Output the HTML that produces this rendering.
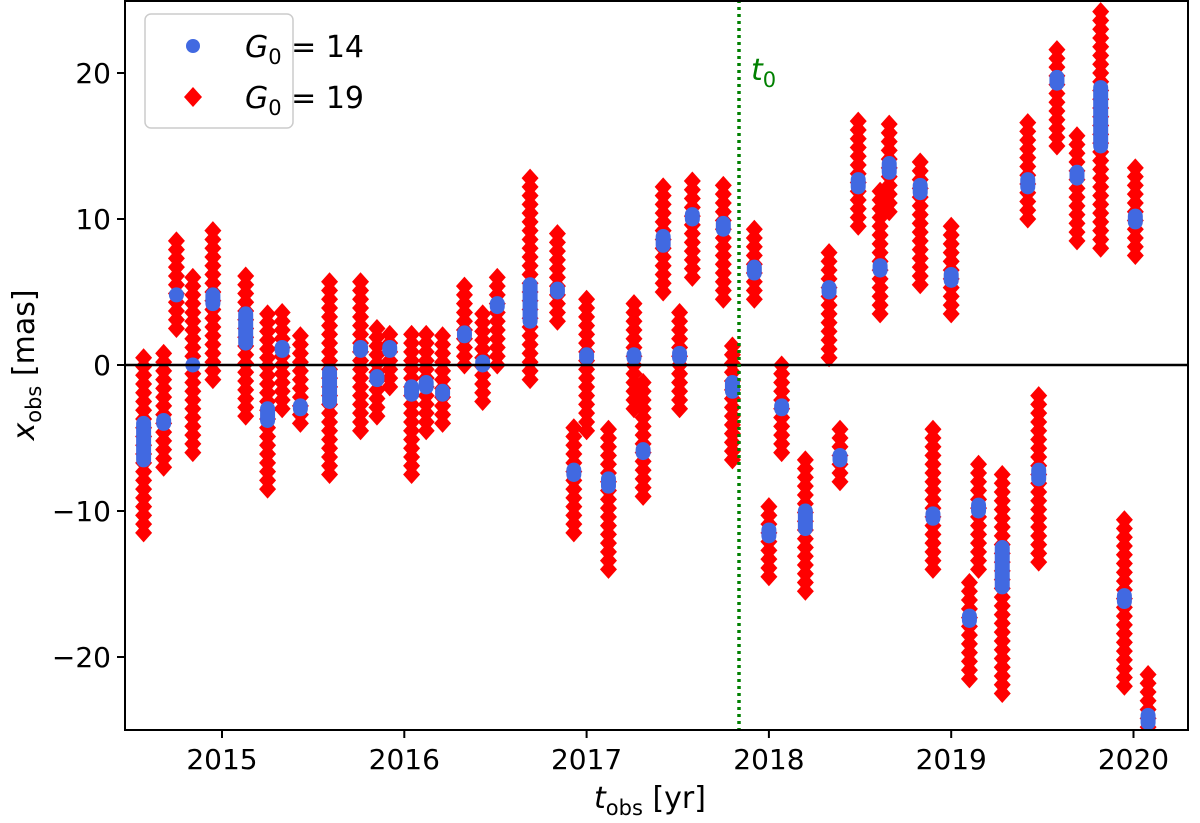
<!DOCTYPE html>
<html><head><meta charset="utf-8"><style>
body{margin:0;background:#fff;}
svg text{font-family:"DejaVu Sans","Liberation Sans",sans-serif;}
</style></head><body>
<svg id="chart" width="1200" height="818" xmlns="http://www.w3.org/2000/svg">
<defs><clipPath id="plotclip"><rect x="125" y="1" width="1063" height="729"/></clipPath></defs>
<g id="marks" clip-path="url(#plotclip)"></g>
<line x1="125" y1="365" x2="1188" y2="365" stroke="#000" stroke-width="2.5"/>
<line x1="739" y1="0" x2="739" y2="730" stroke="green" stroke-width="3.5" stroke-dasharray="3,4"/>
<text x="751" y="80" fill="green" font-size="30" font-style="italic">t<tspan font-size="21" dy="7" font-style="normal">0</tspan></text>
<rect x="125" y="1" width="1063" height="729" fill="none" stroke="#000" stroke-width="2"/>
<g id="ticks"></g>
<text transform="translate(34,365) rotate(-90)" text-anchor="middle" font-size="30"><tspan font-style="italic">x</tspan><tspan font-size="21" dy="7">obs</tspan><tspan dy="-7"> [mas]</tspan></text>
<text x="650" y="808" text-anchor="middle" font-size="30"><tspan font-style="italic">t</tspan><tspan font-size="21" dy="7">obs</tspan><tspan dy="-7"> [yr]</tspan></text>
<g>
<rect x="145" y="14" width="148" height="114" rx="6" fill="#fff" fill-opacity="0.85" stroke="#ccc" stroke-width="1.5"/>
<circle cx="193" cy="46" r="7" fill="#4169e1"/>
<text x="245" y="57" font-size="30"><tspan font-style="italic">G</tspan><tspan font-size="21" dy="7">0</tspan><tspan dy="-7"> = 14</tspan></text>
<polygon points="193,87 202,97 193,107 184,97" fill="red"/>
<text x="245" y="108" font-size="30"><tspan font-style="italic">G</tspan><tspan font-size="21" dy="7">0</tspan><tspan dy="-7"> = 19</tspan></text>
</g>
</svg>
<script>
const epochs=[2014.57,2014.68,2014.75,2014.84,2014.95,2015.13,2015.25,2015.33,2015.43,2015.59,2015.76,2015.85,2015.92,2016.04,2016.12,2016.21,2016.33,2016.43,2016.51,2016.69,2016.84,2016.93,2017.0,2017.12,2017.26,2017.31,2017.42,2017.51,2017.58,2017.75,2017.80,2017.92,2018.0,2018.07,2018.2,2018.33,2018.39,2018.49,2018.61,2018.66,2018.83,2018.90,2019.0,2019.10,2019.15,2019.28,2019.42,2019.48,2019.58,2019.69,2019.82,2019.95,2020.01,2020.08];
const blueLo=[-6.5,-4,4.8,0,4.2,1.5,-3.8,1,-3,-2.5,1,-1,1,-2,-1.5,-2,2,0,4,3,5,-7.5,0.5,-8.3,0.5,-6,8.2,0.5,10,9.3,-1.8,6.3,-11.7,-3,-11.2,5,-6.5,12.2,6.5,13.2,11.8,-10.5,5.8,-17.5,-10,-15.2,12.2,-7.8,19.3,12.8,15,-16.2,9.8,-24.5];
const blueHi=[-4,-3.8,4.8,0,4.8,3.5,-3,1.2,-2.8,-0.5,1.2,-0.8,1.2,-1.5,-1.2,-1.8,2.2,0.2,4.2,5.5,5.2,-7.2,0.7,-7.8,0.7,-5.8,8.8,0.8,10.3,9.7,-1.2,6.7,-11.3,-2.8,-10,5.3,-6.2,12.7,6.8,13.8,12.3,-10.2,6.2,-17.2,-9.6,-12.5,12.7,-7.2,19.7,13.2,19,-15.8,10.2,-24];
const redLo=[-11.5,-7,2.5,-6,-1,-3.5,-8.5,-3,-4,-7.5,-4.5,-3.5,-1.5,-7.5,-4.5,-4,0,-2.5,0,-1,3,-11.5,-4.5,-14,-3,-9,5,-3,6,4.5,-6.5,4.5,-14.5,-6,-15.5,0.5,-8,9.5,3.5,10.5,5.5,-14,3.5,-21.5,-14,-22.5,10,-13.5,15,8.5,8,-22,7.5,-26];
const redHi=[1,1,9,6,9.5,6.5,3.5,4,2.5,6,6,2.5,2.5,2.5,2.5,2,5.5,4,6,13,9,-4,5,-4,4.5,-1,12.5,4,13,12.5,1.5,9.5,-9.5,0.5,-6.5,8,-4,17,12,17,14,-4,10,-14.5,-6.5,-7,17,-2,22,16,24.5,-10.5,14,-21];
const xTicks=[2015,2016,2017,2018,2019,2020];
const yTicks=[20,10,0,-10,-20];
const X=t=>222+(t-2015)*182.3;
const Y=v=>365-v*14.6;
const NS="http://www.w3.org/2000/svg";
const marks=document.getElementById('marks');
const ticks=document.getElementById('ticks');
epochs.forEach((t,i)=>{
  const x=X(t);
  for(let v=redLo[i];v<=redHi[i]+0.01;v+=0.6){
    const y=Y(v);
    const p=document.createElementNS(NS,'polygon');
    p.setAttribute('points',`${x},${y-9.5} ${x+8.5},${y} ${x},${y+9.5} ${x-8.5},${y}`);
    p.setAttribute('fill','red');
    
    
    marks.appendChild(p);
  }
});
epochs.forEach((t,i)=>{
  const x=X(t);
  const r=document.createElementNS(NS,'rect');
  const y1=Y(blueHi[i]),y2=Y(blueLo[i]);
  r.setAttribute('x',x-7.5);r.setAttribute('width',15);
  r.setAttribute('y',y1-7.5);r.setAttribute('height',y2-y1+15);
  r.setAttribute('rx',7.5);r.setAttribute('fill','#4169e1');
  
  
  marks.appendChild(r);
});
xTicks.forEach(t=>{
  const x=X(t);
  const l=document.createElementNS(NS,'line');
  l.setAttribute('x1',x);l.setAttribute('x2',x);l.setAttribute('y1',730);l.setAttribute('y2',738);
  l.setAttribute('stroke','#000');l.setAttribute('stroke-width',2);
  
  
  ticks.appendChild(l);
  const s=document.createElementNS(NS,'text');
  s.setAttribute('x',x);s.setAttribute('y',769);s.setAttribute('text-anchor','middle');s.setAttribute('font-size','28');
  s.textContent=t;
  
  
  ticks.appendChild(s);
});
yTicks.forEach(v=>{
  const y=Y(v);
  const l=document.createElementNS(NS,'line');
  l.setAttribute('x1',117);l.setAttribute('x2',125);l.setAttribute('y1',y);l.setAttribute('y2',y);
  l.setAttribute('stroke','#000');l.setAttribute('stroke-width',2);
  
  
  ticks.appendChild(l);
  const s=document.createElementNS(NS,'text');
  s.setAttribute('x',111);s.setAttribute('y',y+10);s.setAttribute('text-anchor','end');s.setAttribute('font-size','28');
  s.textContent=v<0?'\u2212'+(-v):v;
  
  
  ticks.appendChild(s);
});
</script>
</body></html>
